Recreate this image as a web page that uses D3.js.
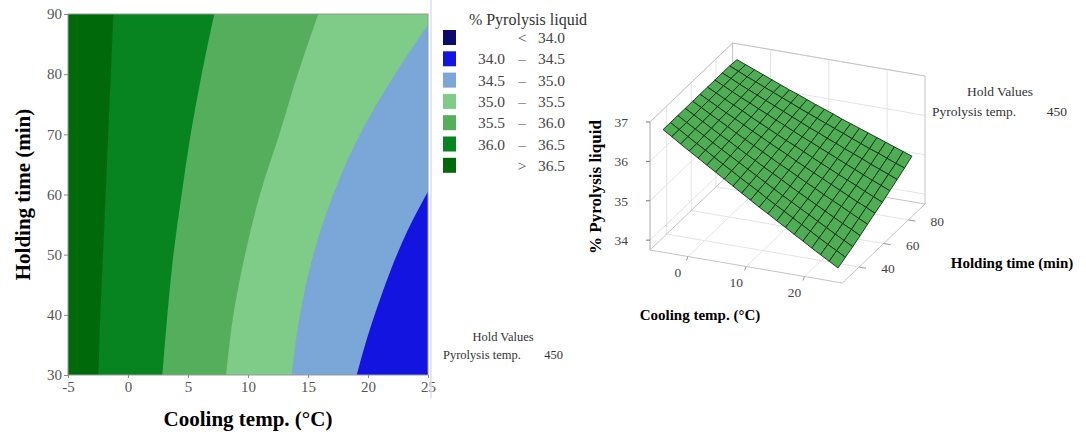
<!DOCTYPE html>
<html>
<head>
<meta charset="utf-8">
<script src="https://cdn.jsdelivr.net/npm/d3@7"></script>
<style>
  body { margin: 0; background: #fff; }
  svg { display: block; font-family: "Liberation Serif", "Times New Roman", serif; }
</style>
</head>
<body>
<div id="chart"></div>
<script>
const width = 1086, height = 434;

// ---- contour plot data ----
const coolTicks = [-5, 0, 5, 10, 15, 20, 25];
const holdTicks = [30, 40, 50, 60, 70, 80, 90];

// band colours, lowest level first
const bandColors = ["#0b0b6b", "#1414e0", "#7aa6d8", "#7fcb88", "#55ae5b", "#07831f", "#006a0a"];
const legendRows = [["", "<", "34.0"], ["34.0", "\u2013", "34.5"], ["34.5", "\u2013", "35.0"],
                    ["35.0", "\u2013", "35.5"], ["35.5", "\u2013", "36.0"], ["36.0", "\u2013", "36.5"],
                    ["", ">", "36.5"]];

// contour boundaries as [cooling temp, holding time]
const bound365 = [[-1.22, 90], [-1.43, 80], [-1.65, 70], [-1.86, 60], [-2.08, 50], [-2.3, 40], [-2.47, 30]];
const bound360 = [[7.19, 90], [6.14, 80], [5.22, 70], [4.47, 60], [3.78, 50], [3.28, 40], [2.86, 30]];
const bound355 = [[15.86, 90], [14.14, 80], [12.61, 70], [11.0, 60], [9.75, 50], [8.78, 40], [8.17, 30]];
const bound350 = [[25, 88.2], [22.25, 80], [19.33, 70], [17.11, 60], [15.44, 50], [14.33, 40], [13.64, 30]];
const bound345 = [[25, 60.5], [23.3, 54], [22.0, 48], [20.9, 42], [19.9, 36], [19.06, 30]];
const bound340 = [[25, 30.6], [24.7, 30]];

// ---- surface plot data ----
const coolGrid = [-5, -3.5, -2, -0.5, 1, 2.5, 4, 5.5, 7, 8.5, 10, 11.5, 13, 14.5, 16, 17.5, 19, 20.5, 22, 23.5, 25];
const holdGrid = [30, 36, 42, 48, 54, 60, 66, 72, 78, 84, 90];
const surfZ = [
  [36.74, 36.60, 36.45, 36.31, 36.17, 36.03, 35.89, 35.75, 35.61, 35.47, 35.33, 35.19, 35.06, 34.92, 34.79, 34.65, 34.52, 34.38, 34.25, 34.12, 33.99],
  [36.74, 36.60, 36.46, 36.32, 36.19, 36.05, 35.91, 35.78, 35.64, 35.51, 35.38, 35.24, 35.11, 34.98, 34.85, 34.72, 34.59, 34.46, 34.33, 34.21, 34.08],
  [36.74, 36.60, 36.47, 36.34, 36.20, 36.07, 35.94, 35.81, 35.68, 35.55, 35.42, 35.29, 35.16, 35.04, 34.91, 34.79, 34.66, 34.54, 34.41, 34.29, 34.17],
  [36.74, 36.61, 36.48, 36.35, 36.22, 36.10, 35.97, 35.84, 35.72, 35.59, 35.47, 35.35, 35.22, 35.10, 34.98, 34.86, 34.74, 34.62, 34.50, 34.39, 34.27],
  [36.74, 36.62, 36.49, 36.37, 36.25, 36.12, 36.00, 35.88, 35.76, 35.64, 35.52, 35.41, 35.29, 35.17, 35.06, 34.94, 34.83, 34.72, 34.60, 34.49, 34.38],
  [36.74, 36.62, 36.50, 36.38, 36.27, 36.15, 36.03, 35.92, 35.80, 35.69, 35.58, 35.46, 35.35, 35.24, 35.13, 35.02, 34.91, 34.80, 34.69, 34.59, 34.48],
  [36.74, 36.63, 36.51, 36.40, 36.29, 36.17, 36.06, 35.95, 35.84, 35.73, 35.63, 35.52, 35.41, 35.30, 35.20, 35.09, 34.99, 34.89, 34.78, 34.68, 34.58],
  [36.74, 36.63, 36.52, 36.41, 36.31, 36.20, 36.10, 35.99, 35.89, 35.78, 35.68, 35.58, 35.48, 35.38, 35.28, 35.18, 35.08, 34.98, 34.88, 34.79, 34.69],
  [36.74, 36.64, 36.53, 36.43, 36.33, 36.23, 36.13, 36.03, 35.93, 35.83, 35.73, 35.64, 35.54, 35.45, 35.35, 35.26, 35.17, 35.07, 34.98, 34.89, 34.80],
  [36.74, 36.64, 36.54, 36.45, 36.35, 36.26, 36.16, 36.07, 35.97, 35.88, 35.79, 35.70, 35.61, 35.52, 35.43, 35.34, 35.25, 35.17, 35.08, 34.99, 34.91],
  [36.72, 36.63, 36.54, 36.45, 36.36, 36.27, 36.18, 36.10, 36.01, 35.92, 35.84, 35.76, 35.67, 35.59, 35.51, 35.43, 35.35, 35.27, 35.19, 35.11, 35.03]
];
const zTicks = [34, 35, 36, 37];
const coolTicks3d = [0, 10, 20];
const holdTicks3d = [40, 60, 80];

const svg = d3.select("#chart").append("svg")
  .attr("width", width).attr("height", height);

// ================= contour plot =================
const x = d3.scaleLinear().domain([-5, 25]).range([68, 428]);
const y = d3.scaleLinear().domain([30, 90]).range([375, 14]);

svg.append("clipPath").attr("id", "plotclip")
  .append("rect").attr("x", x(-5)).attr("y", y(90))
  .attr("width", x(25) - x(-5)).attr("height", y(30) - y(90));

const plot = svg.append("g").attr("clip-path", "url(#plotclip)");
plot.append("rect")
  .attr("x", x(-5)).attr("y", y(90))
  .attr("width", x(25) - x(-5)).attr("height", y(30) - y(90))
  .attr("fill", bandColors[6]);

const contourLine = d3.line()
  .x(d => x(d[0])).y(d => y(d[1]))
  .curve(d3.curveMonotoneY);

// each boundary fills everything to its right with the next lower band
const boundaries = [bound365, bound360, bound355, bound350, bound345, bound340];
boundaries.forEach((pts, i) => {
  const p = contourLine(pts) +
    "L" + x(25) + "," + y(30) +
    "L" + x(25) + "," + y(pts[0][1]) + "Z";
  plot.append("path").attr("d", p).attr("fill", bandColors[5 - i]);
});

svg.append("rect")
  .attr("x", x(-5)).attr("y", y(90))
  .attr("width", x(25) - x(-5)).attr("height", y(30) - y(90))
  .attr("fill", "none").attr("stroke", "#9a9a9a").attr("stroke-width", 1);

const yAxis = svg.append("g")
  .attr("transform", `translate(${x(-5)},0)`)
  .call(d3.axisLeft(y).tickValues(holdTicks).tickSize(4).tickPadding(2));
const xAxis = svg.append("g")
  .attr("transform", `translate(0,${y(30)})`)
  .call(d3.axisBottom(x).tickValues(coolTicks).tickSize(3).tickPadding(3).tickFormat(d => String(d)));
[xAxis, yAxis].forEach(a => {
  a.select(".domain").remove();
  a.selectAll("line").attr("stroke", "#888");
  a.selectAll("text").attr("fill", "#555").attr("font-size", "15px")
    .attr("font-family", "Liberation Serif, serif");
});

svg.append("text")
  .attr("x", (x(-5) + x(25)) / 2).attr("y", 426)
  .attr("text-anchor", "middle").attr("font-weight", "bold").attr("font-size", "21px")
  .text("Cooling temp. (\u00b0C)");
svg.append("text")
  .attr("transform", `translate(30,${(y(30) + y(90)) / 2}) rotate(-90)`)
  .attr("text-anchor", "middle").attr("font-weight", "bold").attr("font-size", "21px")
  .text("Holding time (min)");

svg.append("line")
  .attr("x1", 431).attr("x2", 431).attr("y1", 0).attr("y2", 398)
  .attr("stroke", "#dcdcf0").attr("stroke-width", 1.5);

// legend
const legend = svg.append("g");
legend.append("text").attr("x", 528).attr("y", 25)
  .attr("text-anchor", "middle").attr("font-size", "16px").attr("fill", "#333")
  .text("% Pyrolysis liquid");
legendRows.forEach((r, i) => {
  const ty = 30 + i * 21.3;
  legend.append("rect").attr("x", 443).attr("y", ty)
    .attr("width", 13).attr("height", 15).attr("fill", bandColors[i]);
  const g = legend.append("g").attr("fill", "#444").attr("font-size", "15.5px");
  if (r[0]) g.append("text").attr("x", 505).attr("y", ty + 13).attr("text-anchor", "end").text(r[0]);
  g.append("text").attr("x", 522).attr("y", ty + 13).attr("text-anchor", "middle").text(r[1]);
  g.append("text").attr("x", 565).attr("y", ty + 13).attr("text-anchor", "end").text(r[2]);
});

const hold1 = svg.append("g").attr("fill", "#333").attr("font-size", "12.5px");
hold1.append("text").attr("x", 503).attr("y", 341).attr("text-anchor", "middle").text("Hold Values");
hold1.append("text").attr("x", 443).attr("y", 359).text("Pyrolysis temp.");
hold1.append("text").attr("x", 563).attr("y", 359).attr("text-anchor", "end").text("450");

// ================= 3D surface plot =================
const origin = [650, 250];
const ex = [192.4, 33], ey = [82.6, -79];
const cA = -6.5, cB = 26.5, hA = 26.5, hB = 93.5, zA = 33.75, zB = 37;
const cs = d3.scaleLinear().domain([cA, cB]).range([0, 1]);
const hs = d3.scaleLinear().domain([hA, hB]).range([0, 1]);
const zs = d3.scaleLinear().domain([zA, zB]).range([0, 128]);

function proj(c, h, z) {
  const u = cs(c), v = hs(h);
  return [origin[0] + u * ex[0] + v * ey[0], origin[1] + u * ex[1] + v * ey[1] - zs(z)];
}
const s3 = svg.append("g");
function seg(a, b, color, w) {
  s3.append("line")
    .attr("x1", a[0]).attr("y1", a[1]).attr("x2", b[0]).attr("y2", b[1])
    .attr("stroke", color).attr("stroke-width", w || 1);
}

// back walls grid
const gridCol = "#e4e4e4";
zTicks.forEach(z => {
  seg(proj(cA, hA, z), proj(cA, hB, z), gridCol);
  seg(proj(cA, hB, z), proj(cB, hB, z), gridCol);
});
holdTicks3d.forEach(h => {
  seg(proj(cA, h, zA), proj(cA, h, zB), gridCol);
  seg(proj(cA, h, zA), proj(cB, h, zA), gridCol);
});
coolTicks3d.forEach(c => {
  seg(proj(c, hB, zA), proj(c, hB, zB), gridCol);
  seg(proj(c, hA, zA), proj(c, hB, zA), gridCol);
});
// box frame
const frameCol = "#c4c4c4";
seg(proj(cA, hA, zA), proj(cA, hA, zB), "#a8a8a8");
seg(proj(cA, hA, zB), proj(cA, hB, zB), frameCol);
seg(proj(cA, hB, zB), proj(cB, hB, zB), frameCol);
seg(proj(cB, hB, zB), proj(cB, hB, zA), frameCol);
seg(proj(cA, hB, zA), proj(cA, hB, zB), frameCol);
seg(proj(cA, hA, zA), proj(cA, hB, zA), frameCol);
seg(proj(cA, hB, zA), proj(cB, hB, zA), frameCol);
seg(proj(cA, hA, zA), proj(cB, hA, zA), frameCol);
seg(proj(cB, hA, zA), proj(cB, hB, zA), frameCol);

// ticks and labels
const tickFont = "13.5px";
zTicks.forEach(z => {
  const p = proj(cA, hA, z);
  seg([p[0] - 4, p[1]], p, "#777");
  s3.append("text").attr("x", p[0] - 22).attr("y", p[1] + 5)
    .attr("text-anchor", "end").attr("font-size", tickFont).attr("fill", "#444").text(z);
});
coolTicks3d.forEach(c => {
  const p = proj(c, hA, zA);
  seg(p, [p[0] - 1.5, p[1] + 4], "#999");
  s3.append("text").attr("x", p[0] - 10).attr("y", p[1] + 20)
    .attr("text-anchor", "middle").attr("font-size", tickFont).attr("fill", "#444").text(c);
});
holdTicks3d.forEach(h => {
  const p = proj(cB, h, zA);
  seg(p, [p[0] + 7, p[1] + 1.2], "#999");
  s3.append("text").attr("x", p[0] + 29).attr("y", p[1] + 6)
    .attr("text-anchor", "middle").attr("font-size", tickFont).attr("fill", "#444").text(h);
});

// surface mesh
const surf = svg.append("g");
for (let j = holdGrid.length - 2; j >= 0; j--) {
  for (let i = 0; i < coolGrid.length - 1; i++) {
    const pts = [
      proj(coolGrid[i], holdGrid[j], surfZ[j][i]),
      proj(coolGrid[i + 1], holdGrid[j], surfZ[j][i + 1]),
      proj(coolGrid[i + 1], holdGrid[j + 1], surfZ[j + 1][i + 1]),
      proj(coolGrid[i], holdGrid[j + 1], surfZ[j + 1][i])
    ];
    surf.append("path")
      .attr("d", "M" + pts.map(p => p.join(",")).join("L") + "Z")
      .attr("fill", "#4fae55").attr("stroke", "#102e12").attr("stroke-width", 0.9)
      .attr("stroke-linejoin", "round");
  }
}

// axis titles
svg.append("text").attr("x", 700).attr("y", 320)
  .attr("text-anchor", "middle").attr("font-weight", "bold").attr("font-size", "15px")
  .text("Cooling temp. (\u00b0C)");
svg.append("text").attr("x", 1012).attr("y", 268)
  .attr("text-anchor", "middle").attr("font-weight", "bold").attr("font-size", "15px")
  .text("Holding time (min)");
svg.append("text")
  .attr("transform", "translate(601,187) rotate(-90)")
  .attr("text-anchor", "middle").attr("font-weight", "bold").attr("font-size", "17px")
  .text("% Pyrolysis liquid");

const hold2 = svg.append("g").attr("fill", "#333").attr("font-size", "13.5px");
hold2.append("text").attr("x", 1000).attr("y", 96).attr("text-anchor", "middle").text("Hold Values");
hold2.append("text").attr("x", 932).attr("y", 116).text("Pyrolysis temp.");
hold2.append("text").attr("x", 1067).attr("y", 116).attr("text-anchor", "end").text("450");
</script>
</body>
</html>
